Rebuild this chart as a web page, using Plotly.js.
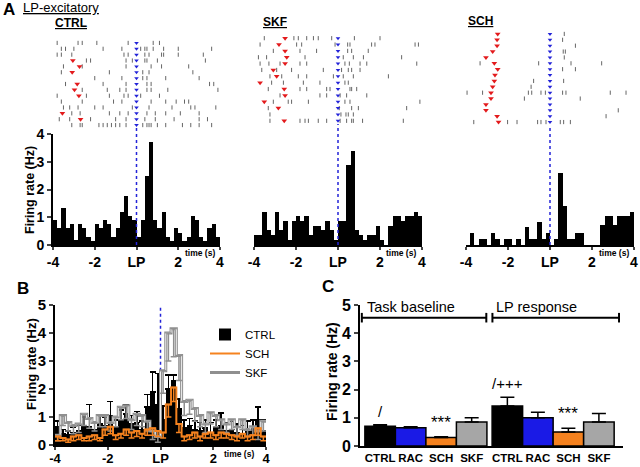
<!DOCTYPE html>
<html>
<head>
<meta charset="utf-8">
<script src="https://cdn.plot.ly/plotly-3.0.1.min.js"></script>
<style>
  html, body { margin: 0; padding: 0; background: #fff; }
  #chart { width: 640px; height: 467px; }
</style>
</head>
<body>
<div id="chart"></div>
<script>
// ---- panel A: single-unit PSTHs (0.2 s bins, -4..4 s around lever press) ----
const ctrlRate = [0.9, 0.6, 1.33, 0.6, 0.75, 0.18, 0.75, 0.6, 0.3, 0.15,
                  0.75, 0.6, 0.9, 0.75, 0.3, 0.6, 1.2, 1.78, 1.05, 0.9,
                  0.3, 0.9, 2.5, 3.7, 0.9, 0.6, 1.2, 0.3, 0.15, 0.6,
                  0.45, 0.15, 0.3, 1.05, 0.9, 0.3, 0.15, 0.6, 0.75, 0.3];
const skfRate = [0.35, 0.35, 1.2, 0.55, 0.35, 1.2, 0.55, 0.87, 0.18, 0.87,
                 1.05, 0.87, 1.05, 0.35, 0.7, 0.7, 0.55, 0.87, 0.55, 0.18,
                 0.87, 0.87, 2.9, 3.4, 0.55, 0.35, 0.18, 0.35, 0.35, 0.7,
                 0.18, 0, 0.7, 1.05, 1.05, 0.87, 1.05, 1.05, 1.2, 1.05];
const schRate = [0, 0.42, 0, 0.23, 0.23, 0, 0.42, 0.23, 0, 0.23,
                 0.23, 0, 0.23, 0, 0.64, 0.23, 0.23, 0.82, 0.23, 0.42,
                 0, 0.23, 2.6, 1.4, 0.23, 0.23, 0.42, 0.42, 0, 0,
                 0, 0, 0.72, 1.05, 1.05, 0.72, 1.05, 1.05, 1.05, 1.2];

// rasters: spike times (s) per trial, and the red cue marker per trial
const ctrlSpikes = [
  [-3.8, -2.8, -2.6, -1.9, -0.4, 0.8, 1.1],
  [-3.6, -3.4, -3.0, -1.6, -0.7, 0.2, 0.4, 0.5, 0.8, 1.3, 2.0, 3.6],
  [-3.8, -3.6, -3.1, -0.6, -0.4, 0.4, 0.6, 1.2, 1.3, 2.0, 3.2],
  [-2.4, -2.2, -0.5, -0.2, 0.4, 0.5, 1.0, 3.3],
  [-3.5, -2.6, -0.5, 0.7, 1.2, 2.5],
  [-3.6, -1.3, 0.3, 0.6, 2.7],
  [-2.0, -0.7, 0.3, 0.5, 1.4, 3.0],
  [-3.4, -1.6, -0.5, 0.5, 0.7, 3.5, 3.7],
  [-2.6, -1.4, -0.8, -0.5, 0.5, 0.7, 1.5, 3.9],
  [-3.8, -2.4, -1.3, -0.6, -0.4, 0.2, 1.1],
  [-3.6, -2.6, -1.1, -0.7, 0.7, 1.4, 1.9, 2.3, 2.5],
  [-3.5, -3.2, -2.8, -2.0, -1.6, -0.2, 0.6, 1.7, 2.6, 2.8, 3.8],
  [-3.1, -2.7, -1.3, -0.8, -0.4, 0.5, 0.9, 1.4, 2.1, 3.0],
  [-3.7, -3.2, -2.2, -1.0, -0.5, 0.4, 0.9, 1.8, 3.0, 3.4],
  [-3.1, -2.7, -2.6, -1.8, -1.6, -1.4, -1.2, -1.0, -0.8, -0.5, 0.3, 0.5, 0.6, 0.7, 1.0, 1.4, 2.2, 2.6, 3.0, 3.6]
];
const ctrlCue = [null, null, null, -3.05, -2.73, -3.08, null, -2.84, -2.97, -2.76, null, null, -3.55, -2.68, null];

const skfSpikes = [
  [-3.51, -2.10, -1.89, -1.49, -1.17, -0.94, -0.30, 0.78, 2.0],
  [-3.71, -1.97, -1.73, -0.14, 0.46, 0.57, 1.60, 1.76, 3.67, 3.83],
  [-3.08, -1.81, -1.02, 0.46, 0.65, 1.44],
  [-3.79, -3.40, -1.57, 0.25, 0.73, 1.21, 3.03],
  [-3.71, -3.29, -2.76, -1.81, -1.49, 0.33, 0.54, 1.05, 1.37, 3.75],
  [-3.63, -2.92, -2.21, -0.70, 0.17, 0.49, 0.65, 1.05],
  [-3.24, -2.68, -1.89, -1.49, -0.22, 0.25, 0.73, 2.40],
  [-3.16, -2.60, -1.65, -0.86, 0.33, 0.49],
  [-3.32, -1.81, -1.49, -0.54, -0.38, 0.57, 0.65, 0.89],
  [-2.76, -0.86, -0.54, 0.10, 0.41, 1.37],
  [-3.08, -2.37, -2.21, -1.41, 0.33, 0.57, 3.90],
  [-3.32, 0.06, 0.65, 0.97, 3.27],
  [-3.24, 0.14, 0.38, 0.49, 0.73],
  [-3.24, -1.81, -1.57, -1.41, -0.94, -0.54, 0.10, 0.41, 0.65, 0.73, 1.17, 3.11]
];
const skfCue = [-2.52, -2.81, -2.52, -2.44, -2.52, -3.08, -2.92, -3.71, -2.56, -2.52, -3.51, -2.84, null, -2.56];

const schSpikes = [
  [0.68], [0.60], [1.21], [0.63, 0.73], [0.68],
  [-3.33, -0.54, 1.0, 2.46], [0.60, 1.21], [], [-0.78, 0.65], [-0.90],
  [-3.95, -3.21, -1.03, -0.87, -0.43, -0.22, 0.60, 0.76, 2.87, 3.62],
  [-1.22, 1.44], [], [3.25], [2.67],
  [-3.63, -2.02, -1.57, -0.59, -0.43, -0.19, 0.49, 0.65, 0.97]
];
const schCue = [-2.49, -2.52, -2.52, -2.73, -3.05, -2.65, -2.49, -2.62, -2.65, -2.73, -2.81, -2.81, -3.05, -3.05, -2.52, -2.45];

// ---- panel B: population mean PSTH (+/- SEM) ----
const bCtrlMean = [0.65, 0.4, 0.35, 0.45, 0.5, 0.7, 0.65, 0.55, 0.75, 0.7,
                   1.05, 0.6, 0.9, 1.1, 0.75, 0.8, 0.55, 1.35, 1.9, 1.45,
                   0.9, 2.0, 2.3, 1.3, 0.6, 0.7, 0.55, 0.5, 0.6, 0.45,
                   0.65, 0.7, 0.5, 0.55, 0.45, 0.4, 0.55, 0.6, 0.9, 0.5];
const bCtrlSem = [0.2, 0.15, 0.15, 0.2, 0.2, 0.3, 0.8, 0.25, 0.3, 0.3,
                  0.5, 0.3, 0.35, 0.35, 0.3, 0.4, 0.3, 0.45, 0.7, 1.1,
                  0.5, 0.5, 0.2, 0.35, 0.3, 0.25, 0.3, 0.3, 0.3, 0.35,
                  0.25, 0.45, 0.3, 0.3, 0.3, 0.3, 0.3, 0.3, 0.45, 0.4];
const bSkfMean = [0.35, 1.05, 0.8, 0.7, 0.75, 1.1, 0.95, 0.8, 1.05, 1.05,
                  0.8, 1.0, 1.35, 1.4, 0.9, 1.1, 1.05, 0.85, 0.5, 0.3,
                  2.65, 4.0, 4.15, 3.2, 1.55, 1.6, 1.3, 1.05, 0.75, 1.15,
                  1.05, 0.9, 0.75, 0.9, 0.65, 0.9, 0.55, 0.65, 0.5, 0.85];
const bSkfSem = [0.2, 0.35, 0.3, 0.3, 0.3, 0.4, 0.35, 0.3, 0.4, 0.4,
                 0.3, 0.35, 0.45, 0.45, 0.35, 0.4, 0.4, 0.35, 0.3, 0.2,
                 0.8, 1.0, 1.0, 0.9, 0.5, 0.5, 0.45, 0.4, 0.3, 0.4,
                 0.4, 0.35, 0.3, 0.35, 0.3, 0.35, 0.25, 0.3, 0.3, 0.35];
const bSchMean = [0.3, 0.25, 0.2, 0.3, 0.35, 0.25, 0.3, 0.35, 0.25, 0.55,
                  0.65, 0.35, 0.4, 0.55, 0.45, 0.5, 0.4, 0.55, 0.6, 0.5,
                  0.45, 1.45, 2.05, 0.75, 0.3, 0.35, 0.45, 0.3, 0.4, 0.45,
                  0.35, 0.45, 0.4, 0.35, 0.3, 0.4, 0.3, 0.35, 0.6, 0.3];
const bSchSem = [0.15, 0.1, 0.1, 0.15, 0.15, 0.1, 0.15, 0.15, 0.1, 0.2,
                 0.25, 0.15, 0.15, 0.2, 0.2, 0.2, 0.15, 0.2, 0.25, 0.2,
                 0.2, 0.45, 0.5, 0.3, 0.15, 0.15, 0.2, 0.15, 0.15, 0.2,
                 0.15, 0.2, 0.15, 0.15, 0.15, 0.15, 0.15, 0.15, 0.25, 0.15];

// ---- panel C: mean firing rate per condition ----
const cLabels = ['CTRL', 'RAC', 'SCH', 'SKF', 'CTRL', 'RAC', 'SCH', 'SKF'];
const cMeans = [0.7, 0.65, 0.3, 0.85, 1.42, 1.0, 0.5, 0.85];
const cSems = [0.05, 0.03, 0.03, 0.15, 0.31, 0.2, 0.13, 0.3];
const cColors = ['#000000', '#1a1ae6', '#f5821f', '#a6a6a6', '#000000', '#1a1ae6', '#f5821f', '#a6a6a6'];
const cMarks = ['/', '', '***', '', '/+++', '', '***', ''];
const groups = ['Task baseline', 'LP response'];

// ---------------------------------------------------------------
const W = 640, H = 467;
const FONT = 'Liberation Sans, Arial, sans-serif';
const px = x => x / W;
const py = y => 1 - y / H;
const BIN = 0.2, T0 = -4;
const centers = a => a.map((_, i) => T0 + BIN * (i + 0.5));
const edges = a => a.map((_, i) => T0 + BIN * i).concat([T0 + BIN * a.length]);
const stepY = a => a.concat([a[a.length - 1]]);
const BLUE = '#2323d8';

function rasterTraces(spikes, cue, ax) {
  let sx = [], sy = [], cx = [], cy = [], lx = [], ly = [];
  spikes.forEach((trial, i) => {
    trial.forEach(t => { sx.push(t); sy.push(i + 1); });
    lx.push(0); ly.push(i + 1);
  });
  cue.forEach((t, i) => { if (t !== null) { cx.push(t); cy.push(i + 1); } });
  const xa = 'x' + ax, ya = 'y' + ax;
  return [
    {x: sx, y: sy, xaxis: xa, yaxis: ya, type: 'scatter', mode: 'markers', showlegend: false,
     marker: {symbol: 'line-ns', size: 3, line: {width: 1, color: '#666'}}},
    {x: lx, y: ly, xaxis: xa, yaxis: ya, type: 'scatter', mode: 'markers', showlegend: false,
     marker: {symbol: 'triangle-down', size: 4, color: BLUE}},
    {x: cx, y: cy, xaxis: xa, yaxis: ya, type: 'scatter', mode: 'markers', showlegend: false,
     marker: {symbol: 'triangle-down', size: 5, color: '#e31a1c'}}
  ];
}

function histTrace(rate, ax) {
  return {x: centers(rate), y: rate, xaxis: 'x' + ax, yaxis: 'y' + ax, type: 'bar', width: BIN,
          marker: {color: '#000', line: {width: 0}}, showlegend: false};
}

let data = [];
data = data.concat(rasterTraces(ctrlSpikes, ctrlCue, ''));
data.push(histTrace(ctrlRate, 2));
data = data.concat(rasterTraces(skfSpikes, skfCue, 3));
data.push(histTrace(skfRate, 4));
data = data.concat(rasterTraces(schSpikes, schCue, 5));
data.push(histTrace(schRate, 6));

// panel B
data.push({x: centers(bCtrlMean), y: bCtrlMean, xaxis: 'x7', yaxis: 'y7', type: 'bar', width: BIN,
  name: 'CTRL', legendrank: 1, marker: {color: '#000', line: {width: 0}},
  error_y: {type: 'data', array: bCtrlSem, arrayminus: bCtrlMean.map(() => 0), symmetric: false,
            color: '#000', thickness: 1.5, width: 3}});
data.push({x: edges(bSkfMean), y: stepY(bSkfMean), xaxis: 'x7', yaxis: 'y7', type: 'scatter', mode: 'lines',
  name: 'SKF', legendrank: 3, line: {shape: 'hv', color: '#8f8f8f', width: 3}});
data.push({x: edges(bSkfMean), y: stepY(bSkfMean), xaxis: 'x7', yaxis: 'y7', type: 'scatter', mode: 'lines',
  showlegend: false, hoverinfo: 'skip', line: {shape: 'hv', color: '#f0f0f0', width: 1}});
data.push({x: centers(bSkfMean), y: bSkfMean, xaxis: 'x7', yaxis: 'y7', type: 'scatter', mode: 'markers',
  showlegend: false, marker: {size: 1, color: 'rgba(0,0,0,0)'},
  error_y: {type: 'data', array: bSkfMean.map(() => 0), arrayminus: bSkfSem, symmetric: false,
            color: '#8f8f8f', thickness: 1.5, width: 3}});
data.push({x: edges(bSchMean), y: stepY(bSchMean), xaxis: 'x7', yaxis: 'y7', type: 'scatter', mode: 'lines',
  name: 'SCH', legendrank: 2, line: {shape: 'hv', color: '#f5821f', width: 2}});
data.push({x: centers(bSchMean), y: bSchMean, xaxis: 'x7', yaxis: 'y7', type: 'scatter', mode: 'markers',
  showlegend: false, marker: {size: 1, color: 'rgba(0,0,0,0)'},
  error_y: {type: 'data', array: bSchMean.map(() => 0), arrayminus: bSchSem, symmetric: false,
            color: '#f5821f', thickness: 1.5, width: 3}});

// panel C: two groups of four adjacent bars with a small gap between the groups
const GAP = 0.17;
const cX = cLabels.map((_, i) => i + (i >= 4 ? GAP : 0));
data.push({x: cX, y: cMeans, xaxis: 'x8', yaxis: 'y8', type: 'bar', width: 1, showlegend: false,
  marker: {color: cColors, line: {color: '#000', width: 1.5}},
  error_y: {type: 'data', array: cSems, arrayminus: cSems.map(() => 0), symmetric: false,
            color: '#000', thickness: 1.5, width: 7}});

const tickFont = s => ({family: FONT, size: s, color: '#000', weight: 'bold'});
const lpTicks = {tickvals: [-4, -2, 0, 2, 4], ticktext: ['-4', '-2', 'LP', '2', '4']};

function rasterAxes(xd, yd, n) {
  return [
    {domain: xd, range: [-4, 4], visible: false, fixedrange: true},
    {domain: yd, range: [n + 0.5, 0.5], visible: false, fixedrange: true}
  ];
}
function histX(xd, anchor, fs) {
  return Object.assign({domain: xd, range: [-4, 4], anchor: anchor, showline: true, linewidth: 2, linecolor: '#000',
    ticks: 'outside', ticklen: 3, tickwidth: 2, tickfont: tickFont(fs), showgrid: false, zeroline: false}, lpTicks);
}
function rateY(yd, anchor, top, fs) {
  return {domain: yd, range: [0, top], anchor: anchor, showline: true, linewidth: 2, linecolor: '#000',
          ticks: 'outside', ticklen: 4, tickwidth: 2, tickfont: tickFont(fs), dtick: 1, showgrid: false, zeroline: false};
}

const histY = [py(245), py(134)];
const ctrlXd = [px(53), px(220)], skfXd = [px(254), px(422)], schXd = [px(466), px(634)];
const [rx1, ry1] = rasterAxes(ctrlXd, [py(128), py(40)], ctrlSpikes.length);
const [rx3, ry3] = rasterAxes(skfXd, [py(124), py(35)], skfSpikes.length);
const [rx5, ry5] = rasterAxes(schXd, [py(125), py(31)], schSpikes.length);

const layout = {
  width: W, height: H,
  margin: {l: 0, r: 0, t: 0, b: 0},
  paper_bgcolor: '#fff', plot_bgcolor: 'rgba(0,0,0,0)',
  font: {family: FONT, color: '#000'},
  barmode: 'overlay', bargap: 0,
  showlegend: true,
  legend: {x: px(205), y: py(320), xanchor: 'left', yanchor: 'top', bgcolor: 'rgba(0,0,0,0)',
           font: {family: FONT, size: 11.5, color: '#000'}, tracegroupgap: 0, itemwidth: 30},
  xaxis: rx1, yaxis: ry1,
  xaxis2: histX(ctrlXd, 'y2', 14),
  yaxis2: rateY(histY, 'x2', 4, 14),
  xaxis3: rx3, yaxis3: ry3,
  xaxis4: histX(skfXd, 'y4', 14),
  yaxis4: {domain: histY, range: [0, 4], anchor: 'x4', visible: false},
  xaxis5: rx5, yaxis5: ry5,
  xaxis6: histX(schXd, 'y6', 14),
  yaxis6: {domain: histY, range: [0, 4], anchor: 'x6', visible: false},
  xaxis7: Object.assign(histX([px(55), px(266)], 'y7', 13), {ticklabelstandoff: -3}),
  yaxis7: rateY([py(445), py(305)], 'x7', 5, 15),
  xaxis8: {domain: [px(360), px(623)], range: [-0.66, 7.96], anchor: 'y8', showline: true, linewidth: 2, linecolor: '#000',
           ticks: '', tickvals: cX, ticktext: cLabels, tickfont: tickFont(11.5), showgrid: false, zeroline: false},
  yaxis8: rateY([py(446), py(305)], 'x8', 5, 16),
  shapes: [],
  annotations: []
};

// LP reference lines (dashed blue) through raster and histogram
const dash = {color: BLUE, width: 1.5, dash: 'dot'};
[['x2', 128], ['x4', 124], ['x6', 125]].forEach(([xr, top]) => {
  layout.shapes.push({type: 'line', xref: xr, yref: 'paper', x0: 0, x1: 0, y0: py(245), y1: py(top), line: dash});
});
layout.shapes.push({type: 'line', xref: 'x7', yref: 'y7', x0: 0, x1: 0, y0: 2.65, y1: 5, line: dash, layer: 'below'});

// group brackets in C
const bracketY = 4.55;
[[-0.6, 3.48], [3.68, 7.83]].forEach(([a, b]) => {
  const ln = {color: '#000', width: 2};
  layout.shapes.push({type: 'line', xref: 'x8', yref: 'y8', x0: a, x1: b, y0: bracketY, y1: bracketY, line: ln});
  layout.shapes.push({type: 'line', xref: 'x8', yref: 'y8', x0: a, x1: a, y0: bracketY - 0.17, y1: bracketY + 0.17, line: ln});
  layout.shapes.push({type: 'line', xref: 'x8', yref: 'y8', x0: b, x1: b, y0: bracketY - 0.17, y1: bracketY + 0.17, line: ln});
});

const ann = layout.annotations;
const txt = (text, x, y, size, opts) => ann.push(Object.assign({text: text, x: px(x), y: py(y), xref: 'paper', yref: 'paper',
  showarrow: false, xanchor: 'left', yanchor: 'middle', font: {family: FONT, size: size, color: '#000'}}, opts || {}));

txt('<b>A</b>', 1, 9, 17);
txt('<u>LP-excitatory</u>', 21, 7, 13);
txt('<b><u>CTRL</u></b>', 53, 23, 12);
txt('<b><u>SKF</u></b>', 261, 22, 12);
txt('<b><u>SCH</u></b>', 466, 21, 12);
txt('<b>time (s)</b>', 183, 253, 8.5);
txt('<b>time (s)</b>', 384, 253, 8.5);
txt('<b>time (s)</b>', 597, 253, 8.5);
txt('<b>B</b>', 15, 288, 17);
txt('<b>time (s)</b>', 222, 454, 8.5);
txt('<b>C</b>', 320, 286, 17);
// y-axis titles
txt('<b>Firing rate (Hz)</b>', 30, 190, 12.5, {xanchor: 'center', textangle: -90});
txt('<b>Firing rate (Hz)</b>', 31, 364, 13, {xanchor: 'center', textangle: -90});
txt('<b>Firing rate (Hz)</b>', 332, 372, 14, {xanchor: 'center', textangle: -90});

// group labels and significance marks in C
ann.push({text: groups[0], x: -0.5, y: 4.92, xref: 'x8', yref: 'y8', xanchor: 'left', showarrow: false,
          font: {family: FONT, size: 14.5, color: '#000'}});
ann.push({text: groups[1], x: 3.73, y: 4.92, xref: 'x8', yref: 'y8', xanchor: 'left', showarrow: false,
          font: {family: FONT, size: 14.5, color: '#000'}});
cMarks.forEach((m, i) => {
  if (!m) return;
  ann.push({text: m, x: cX[i], y: cMeans[i] + cSems[i], xref: 'x8', yref: 'y8', yanchor: 'bottom', yshift: 3,
            showarrow: false, font: {family: FONT, size: m === '***' ? 17 : 15, color: '#000'}});
});

Plotly.newPlot('chart', data, layout, {staticPlot: true});
</script>
</body>
</html>
